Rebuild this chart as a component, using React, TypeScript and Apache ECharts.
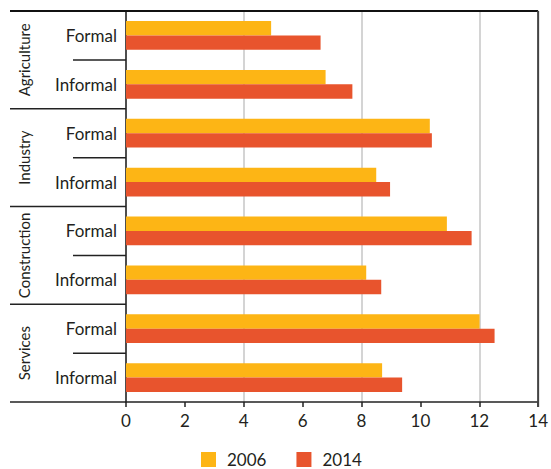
import React, { useEffect, useRef } from "react";
import * as echarts from "echarts";

const groups = ["Agriculture", "Industry", "Construction", "Services"];
const types = ["Formal", "Informal"];
const categories = groups.flatMap((g) => types.map((t) => `${g}|${t}`));
const seriesNames = ["2006", "2014"];
const values2006 = [4.93, 6.78, 10.32, 8.5, 10.9, 8.16, 12.01, 8.7];
const values2014 = [6.61, 7.69, 10.39, 8.97, 11.74, 8.67, 12.52, 9.38];
const xMin = 0;
const xMax = 14;
const xInterval = 2;
const gridInterval = 4;

const FONT = "Lato, 'Open Sans', sans-serif";
const TEXT = "#231f20";
const YELLOW = "#FDB515";
const RED = "#E8542D";

export default function App() {
  const ref = useRef<HTMLDivElement>(null);
  useEffect(() => {
    document.body.style.margin = "0";
    if (!ref.current) return;
    const chart = echarts.init(ref.current, undefined, { renderer: "svg" });
    chart.setOption({
      animation: false,
      textStyle: { fontFamily: FONT, color: TEXT },
      grid: { left: 126, right: 10, top: 11, bottom: 67, containLabel: false },
      legend: {
        left: 201,
        top: 451,
        padding: 0,
        icon: "rect",
        itemWidth: 15,
        itemHeight: 15,
        itemGap: 30,
        textStyle: { fontFamily: FONT, fontSize: 17, lineHeight: 17, color: TEXT, padding: [0, 0, 0, 6] },
        data: seriesNames,
      },
      xAxis: [
        {
          type: "value",
          min: xMin,
          max: xMax,
          interval: xInterval,
          axisLine: { show: true, lineStyle: { color: "#222", width: 1.5 } },
          axisTick: { show: true, inside: false, length: 5, lineStyle: { color: "#222", width: 1.5 } },
          axisLabel: { fontFamily: FONT, fontSize: 17, color: TEXT, margin: 10 },
          splitLine: { show: false },
        },
        {
          type: "value",
          min: xMin,
          max: xMax,
          interval: gridInterval,
          position: "top",
          axisLine: { show: false },
          axisTick: { show: false },
          axisLabel: { show: false },
          splitLine: { show: true, lineStyle: { color: "#d4d4d4", width: 2 } },
        },
      ],
      yAxis: {
        type: "category",
        inverse: true,
        data: categories,
        axisLine: { show: true, lineStyle: { color: "#222", width: 1.5 } },
        axisTick: { show: false },
        axisLabel: {
          fontFamily: FONT,
          fontSize: 17,
          color: TEXT,
          margin: 9,
          formatter: (v: string) => v.split("|")[1],
        },
      },
      series: [
        {
          name: seriesNames[0],
          type: "bar",
          data: values2006,
          itemStyle: { color: YELLOW },
          barGap: "0%",
          barCategoryGap: "41%",
        },
        {
          name: seriesNames[1],
          type: "bar",
          data: values2014,
          itemStyle: { color: RED },
          barGap: "0%",
          barCategoryGap: "41%",
        },
      ],
    });

    const centers = categories.map((c) => chart.convertToPixel({ yAxisIndex: 0 }, c) as number);
    const band = centers.length > 1 ? Math.abs(centers[1] - centers[0]) : 40;
    const boundary = (i: number) => centers[0] - band / 2 + i * band;
    const xLeft = chart.convertToPixel({ xAxisIndex: 0 }, xMin) as number;
    const xRight = chart.convertToPixel({ xAxisIndex: 0 }, xMax) as number;
    const outerLeft = 10;
    const shortLeft = 73;
    const lineStyle = { stroke: "#222", lineWidth: 1.5 };
    const elements: any[] = [];
    for (let i = 0; i <= categories.length; i++) {
      const y = boundary(i);
      if (i === 0) {
        elements.push({ type: "line", z: 100, shape: { x1: outerLeft, y1: y, x2: xRight, y2: y }, style: { stroke: "#111", lineWidth: 2 } });
      } else if (i % 2 === 0) {
        elements.push({ type: "line", z: 100, shape: { x1: outerLeft, y1: y, x2: xLeft, y2: y }, style: lineStyle });
      } else {
        elements.push({ type: "line", z: 100, shape: { x1: shortLeft, y1: y, x2: xLeft, y2: y }, style: lineStyle });
      }
    }
    elements.push({
      type: "line",
      z: 100,
      shape: { x1: xRight, y1: boundary(0), x2: xRight, y2: boundary(categories.length) + 5 },
      style: { stroke: "#444", lineWidth: 2 },
    });
    groups.forEach((g, gi) => {
      const cy = (centers[gi * 2] + centers[gi * 2 + 1]) / 2;
      elements.push({
        type: "text",
        z: 100,
        x: 24,
        y: cy,
        rotation: Math.PI / 2,
        style: {
          text: g,
          fontFamily: FONT,
          fontSize: 15,
          fill: TEXT,
          textAlign: "center",
          textVerticalAlign: "middle",
        },
      });
    });
    chart.setOption({ graphic: { elements } });

    return () => chart.dispose();
  }, []);
  return <div ref={ref} style={{ width: 551, height: 469 }} />;
}
